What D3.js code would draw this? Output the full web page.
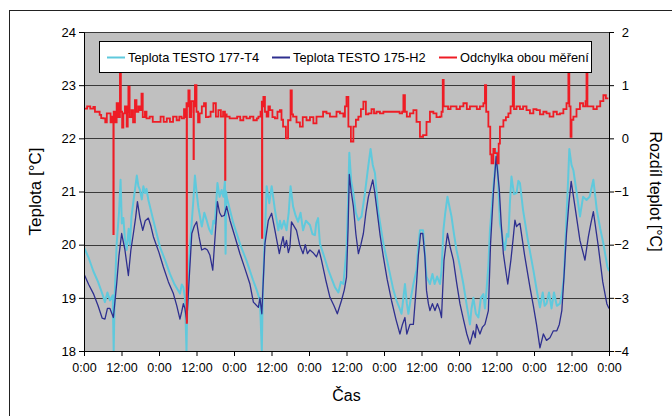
<!DOCTYPE html>
<html><head><meta charset="utf-8">
<script src="https://cdn.jsdelivr.net/npm/d3@7"></script>
<style>
html,body{margin:0;padding:0;background:#fff;}
svg{display:block;font-family:"Liberation Sans",Arial,sans-serif;}
</style></head>
<body><svg id="c" width="672" height="416"></svg>
<script>
// ---- data ----
const xTickHours = [0,12,24,36,48,60,72,84,96,108,120,132,144,156,168];
const xTickLabels = ["0:00","12:00","0:00","12:00","0:00","12:00","0:00","12:00","0:00","12:00","0:00","12:00","0:00","12:00","0:00"];
const leftTicks = [18,19,20,21,22,23,24];
const rightTicks = [-4,-3,-2,-1,0,1,2];
const seriesNames = ["Teplota TESTO 177-T4","Teplota TESTO 175-H2","Odchylka obou měření"];

const t4Hours = [0,1.5,3,4.5,6,6.7,7.5,8.3,9.2,9.5,9.8,10.45,11.2,11.7,12.1,12.6,13.1,13.65,14.3,14.7,15.2,16,16.9,17.4,17.9,18.5,19,19.5,20,20.6,22,24.3,26,27.5,29,30.7,31.3,31.8,32.3,32.8,33.1,33.9,35,35.5,36,36.6,37.2,37.7,38.5,39.25,40,40.85,41.4,41.9,42.7,43.4,44.05,44.6,45.1,45.3,45.5,45.65,46.5,47.8,50,52,54,55.3,56.3,56.9,57.2,57.9,58.45,59.3,60.05,61.1,62.2,62.7,63.2,64,64.8,65.5,66.1,66.9,67.7,68.5,69.3,70.1,71,72.3,73.1,73.9,74.3,74.9,75.5,77,78.2,79.3,80.3,81.4,82.2,83,84,84.5,84.9,85.5,86.2,87,87.8,88.8,89.9,90.8,91.7,92.4,93.1,94.1,95.8,97,97.9,99,100,101,101.6,102.2,102.7,103.3,103.8,104.6,105.4,106.4,107,107.5,108.5,109.1,109.6,110.7,111.5,112.2,113,113.9,114.4,115,115.6,116.3,117,117.6,118.4,119.2,120.3,121.4,122.5,123.5,124,124.6,125.4,126.2,127,127.8,128.3,128.8,129.4,129.9,130.5,131.2,132.05,132.6,133.1,133.9,134.7,135.3,135.8,136.3,136.8,137.6,138.4,139,139.5,140.5,142,143.8,145,145.9,146.8,147.4,148,148.8,149.6,150.4,151.3,152.3,153,153.6,154.4,154.9,155.3,156,156.6,157.6,158.7,159.7,160.8,161.8,163,164.1,165.2,166.2,167.5,168];
const t4Values = [19.95,19.75,19.5,19.3,19.05,18.92,19.1,18.95,19.05,18.0,19.0,20.02,20.6,21.22,20.4,20.5,20.1,19.9,20.3,20.0,20.53,20.9,21.3,21.1,21.03,20.85,21.1,20.97,21.05,20.84,20.5,19.96,19.7,19.45,19.25,19.08,19.25,19.2,19.0,18.0,19.1,19.96,20.84,21.3,21.0,20.7,20.5,20.34,20.6,20.46,20.3,20.2,20.45,20.4,21.16,20.9,21.03,20.9,21.2,19.83,21.0,20.9,20.7,20.4,20.0,19.7,19.35,19.14,18.95,18.0,19.1,20.2,21.1,20.78,21.1,20.65,20.27,20.45,20.3,20.45,20.27,20.6,21.1,20.72,20.55,20.43,20.6,20.27,20.45,20.37,20.2,20.18,20.4,20.5,20.02,19.75,19.52,19.35,19.2,19.1,19.3,19.26,19.9,20.8,21.73,21.2,20.97,20.6,20.46,20.53,20.97,21.4,21.8,21.5,21.35,20.65,20.02,19.7,19.45,19.15,18.95,18.8,18.7,19.0,19.26,18.9,18.7,19.0,19.26,19.52,20.0,20.27,20.27,19.8,19.4,19.26,19.45,19.26,19.4,19.26,19.5,20.27,20.6,20.9,20.7,20.53,20.2,19.9,19.6,19.26,18.85,18.5,18.8,19.0,18.7,18.63,19.0,19.07,18.8,19.14,19.6,20.27,20.7,21.22,21.75,21.1,20.4,20.15,19.9,20.2,20.15,20.8,21.28,20.95,20.97,21.2,21.16,20.65,20.1,19.52,19.1,18.82,19.1,18.85,18.89,19.1,18.8,19.1,18.85,18.89,19.1,19.4,20.53,21.2,21.8,21.5,21.4,21.0,20.53,20.9,20.84,20.9,21.22,20.65,20.3,20.02,19.58,19.5];

const h2Hours = [0,1.5,3,4.5,5.8,6.7,7.5,8.3,9.4,10.45,11.2,12.05,13.1,14.2,15,15.8,16.5,17.1,17.9,18.8,19.6,20.6,21.4,22.2,24,25.4,27,28.6,29.7,30.7,31.3,31.8,32.3,32.9,33.7,34.5,35.3,36.05,36.8,37.65,38.7,39.5,40.3,41.2,42,42.7,43.4,44.05,44.9,45.65,46.7,48.3,49.9,51.5,53.1,54.2,55.8,56.3,56.9,57.9,59,60.05,61.1,62.5,63.1,63.7,64.2,64.8,65.4,65.9,66.4,67.2,68,69,70.1,70.8,71.5,72.3,73.3,74.4,75.2,76,77.3,78.7,80,81.06,82.4,83.3,84,84.5,84.9,85.5,86.2,87,87.8,88.6,89.4,90.2,91,92.4,93,93.6,94.7,95.8,97,98.4,99.8,101.1,101.9,102.7,103.3,104.3,105.4,106.4,107,107.7,108.4,109.1,109.6,110.2,110.7,111.5,112.3,113.1,113.9,114.4,115.2,116.3,117.2,118.2,119.2,120.3,121.4,122.5,123.5,124.6,125.2,125.6,126.7,127.5,128.3,129.4,130.1,131,131.9,132.9,133.5,134.2,135,135.6,136.6,137.3,137.9,138.4,139,139.5,141,142.7,143.8,144.8,145.9,147,148,149.1,150.2,151.3,152.1,152.9,153.6,154.4,155.2,155.9,157.1,158.7,160.3,161.4,162.2,163,164.6,166,167.3,168];
const h2Values = [19.45,19.25,19.08,18.85,18.62,18.6,18.8,18.8,18.63,19.26,19.8,20.21,19.9,19.42,19.9,20.21,20.5,20.81,20.5,20.27,20.45,20.5,20.35,20.15,19.85,19.58,19.3,19.08,18.85,18.6,18.75,18.89,18.8,18.55,19.4,20.21,20.35,20.43,20.15,19.9,19.93,19.9,19.8,19.52,20.2,20.81,20.6,20.53,20.55,20.72,20.46,20.15,19.83,19.55,19.26,18.92,18.82,19.0,18.7,20.02,20.46,20.59,20.27,19.83,20.0,20.15,19.95,20.08,19.85,19.96,20.43,20.35,20.27,20.0,19.83,20.0,19.83,19.9,19.85,19.77,19.9,19.71,19.35,19.01,18.85,18.7,18.95,19.15,19.39,20.3,21.32,21.0,20.72,20.2,19.83,20.0,20.21,20.6,20.9,21.22,21.0,20.72,20.2,19.77,19.35,18.95,18.6,18.32,18.5,18.63,18.32,18.5,18.5,19.26,19.8,20.21,20.21,19.77,19.14,18.89,18.76,18.89,18.76,18.89,18.76,18.63,19.71,20.21,19.95,19.71,19.3,18.89,18.6,18.32,18.13,18.38,18.25,18.5,18.32,18.45,18.5,18.76,20.02,20.97,21.66,21.03,20.4,19.83,19.5,19.26,19.71,20.1,20.46,20.34,20.38,20.4,19.8,19.2,18.85,18.5,18.06,18.32,18.2,18.25,18.38,18.38,18.5,18.76,19.4,20.21,20.8,21.19,20.72,20.08,19.71,20.15,20.4,20.62,19.96,19.3,18.89,18.8];

const diffHours = [0,1,2,3,3.5,4.05,5,5.5,6.2,6.8,7.3,7.8,8.5,9,9.38,9.4,9.5,10,10.45,11,11.5,11.8,12.2,12.6,13.1,13.65,14,14.2,14.6,15.2,15.7,16.3,16.8,17.4,17.9,18.4,18.8,19.5,20,21,22,23.3,24.5,25.5,26.5,27.5,28.5,29.65,30.5,31.25,32,32.5,32.8,32.85,32.95,33.4,33.8,34.3,35,35.05,35.15,35.5,36,36.5,37,37.7,38.4,39,39.8,40.5,41.4,42.2,43,43.8,44.5,45.1,45.15,45.25,45.65,46.6,47.8,49,50,51,52,53.1,54.2,55.3,55.8,56.5,56.9,56.95,57.05,57.4,57.9,58.45,59,59.5,60.3,61.1,61.9,62.7,63.2,63.7,64.6,65.3,66.1,66.5,66.9,68,69.1,70,71.2,72.3,73.4,74.4,75.5,76.5,77.6,78.7,79.8,80.8,81.9,83,83.5,84,84.6,85.4,86.2,87,87.8,88.6,89.4,90.2,91,92,92.8,93.6,94.7,95.8,97,98,99,100,101,101.8,102.2,102.7,103.3,104.3,105.4,106.4,107.5,108.5,109.6,110.7,111.8,112.8,113.9,114.4,114.8,115.1,115.5,116.5,117.3,118.2,119.2,120.3,121.4,122.5,123.5,124.6,125.7,126.7,127.8,128.3,128.7,129.4,130,130.4,131,131.5,132.3,132.7,133.1,134.2,135,135.8,136.5,137.2,137.6,138.4,139.5,140.5,141.6,142.7,143.8,144.8,145.9,147,148,149,150.2,151.3,152.3,153.4,154.4,155,155.3,155.7,156,156.6,157.6,158.7,159.7,160.5,160.8,161.1,161.9,163,164.1,165.2,166.2,167,167.8];
const diffValues = [0.56,0.6,0.56,0.59,0.5,0.5,0.44,0.38,0.375,0.3,0.47,0.47,0.3,0.41,0.41,-1.8,0.5,0.3,0.66,0.4,1.22,0.5,0.2,0.47,0.6,0.22,0.5,0.97,0.4,0.53,0.3,0.72,0.5,0.6,0.53,0.84,0.4,0.5,0.375,0.41,0.31,0.31,0.41,0.31,0.375,0.31,0.41,0.34,0.41,0.375,0.55,0.4,0.66,-3.47,0.6,0.9,0.4,0.7,0.5,-0.39,0.6,1.0,0.5,0.3,0.47,0.6,0.66,0.4,0.41,0.5,0.66,0.41,0.53,0.41,0.5,0.41,-0.78,0.45,0.41,0.375,0.375,0.41,0.34,0.41,0.375,0.41,0.34,0.375,0.41,0.5,0.69,-1.87,0.6,0.78,0.5,0.41,0.6,0.53,0.4,0.375,0.5,0.53,0.35,0.22,0.0,0.34,0.9,0.45,0.41,0.3,0.22,0.4,0.34,0.4,0.28,0.41,0.41,0.5,0.47,0.41,0.41,0.5,0.47,0.41,0.6,0.78,0.22,-0.06,0.22,0.35,0.41,0.55,0.69,0.45,0.47,0.55,0.47,0.5,0.47,0.5,0.5,0.5,0.5,0.5,0.47,0.5,0.81,0.5,0.41,0.47,0.53,0.31,0.03,0.06,0.31,0.5,0.47,0.4,0.41,0.5,1.1,0.6,0.6,0.55,0.6,0.6,0.55,0.6,0.66,0.55,0.6,0.6,0.55,0.6,0.66,1.0,0.5,0.22,-0.3,-0.47,-0.2,-0.28,-0.47,-0.1,0.22,0.34,0.4,0.47,0.6,1.16,0.55,0.6,0.55,0.6,0.53,0.47,0.55,0.53,0.45,0.5,0.47,0.41,0.5,0.45,0.47,0.55,0.66,1.22,0.6,0.03,0.35,0.41,0.55,0.66,0.6,0.7,1.22,0.6,0.6,0.55,0.6,0.7,0.81,0.75,0.75];

// ---- drawing ----
const svg = d3.select("#c");
const colors = ["#5fc9dc","#2e2f8f","#ee1c25"];
const x = d3.scaleLinear().domain([0,168]).range([84,609]);
const yL = d3.scaleLinear().domain([18,24]).range([351,32]);
const yR = d3.scaleLinear().domain([-4,2]).range([351,32]);

// outer frame
svg.append("rect").attr("x",9.5).attr("y",10.5).attr("width",700).attr("height",450)
  .attr("fill","#fff").attr("stroke","#222").attr("stroke-width",1);

// plot area
svg.append("rect").attr("x",x(0)).attr("y",yL(24)).attr("width",x(168)-x(0)).attr("height",yL(18)-yL(24))
  .attr("fill","#c0c0c0");
svg.append("g").selectAll("line").data(leftTicks).join("line")
  .attr("x1",x(0)).attr("x2",x(168))
  .attr("y1",d=>Math.round(yL(d))+0.5).attr("y2",d=>Math.round(yL(d))+0.5)
  .attr("stroke","#3a3a3a").attr("stroke-width",1);

svg.append("defs").append("clipPath").attr("id","clip").append("rect")
  .attr("x",x(0)).attr("y",yL(24)).attr("width",x(168)-x(0)).attr("height",yL(18)-yL(24)+1);

const g = svg.append("g").attr("clip-path","url(#clip)");
const lineL = (hs,vs)=> d3.line().x((d,i)=>x(hs[i])).y((d,i)=>yL(vs[i]))(vs);
const lineR = (hs,vs)=> d3.line().curve(d3.curveStepAfter).x((d,i)=>x(hs[i])).y((d,i)=>yR(vs[i]))(vs);
g.append("path").attr("d",lineL(t4Hours,t4Values)).attr("fill","none").attr("stroke",colors[0]).attr("stroke-width",2).attr("stroke-linejoin","round");
g.append("path").attr("d",lineL(h2Hours,h2Values)).attr("fill","none").attr("stroke",colors[1]).attr("stroke-width",1.3).attr("stroke-linejoin","round");
g.append("path").attr("d",lineR(diffHours,diffValues)).attr("fill","none").attr("stroke",colors[2]).attr("stroke-width",1.8);

// axes
const fs = 13;
const axL = svg.append("g").attr("transform",`translate(${x(0)},0)`)
  .call(d3.axisLeft(yL).tickValues(leftTicks).tickSize(5).tickPadding(3).tickFormat(d3.format("d")));
const axR = svg.append("g").attr("transform",`translate(${x(168)},0)`)
  .call(d3.axisRight(yR).tickValues(rightTicks).tickSize(5).tickPadding(3).tickFormat(d3.format("d")));
const axB = svg.append("g").attr("transform",`translate(0,${yL(18)})`)
  .call(d3.axisBottom(x).tickValues(xTickHours).tickSize(5).tickPadding(7).tickFormat((d,i)=>xTickLabels[i]));
[axL,axR,axB].forEach(a=>{
  a.selectAll("path,line").attr("stroke","#000");
  a.selectAll("text").attr("font-size",fs).attr("fill","#000").attr("font-family","Liberation Sans, Arial, sans-serif");
});
axR.selectAll("text").attr("text-anchor","end").attr("x",20);
axB.selectAll("text").attr("font-size",12.5);

// axis titles
svg.append("text").attr("transform",`translate(41,${(yL(24)+yL(18))/2}) rotate(-90)`)
  .attr("text-anchor","middle").attr("font-size",17).text("Teplota [°C]");
svg.append("text").attr("transform",`translate(650,${(yL(24)+yL(18))/2}) rotate(90)`)
  .attr("text-anchor","middle").attr("font-size",16).text("Rozdíl teplot [°C]");
svg.append("text").attr("x",(x(0)+x(168))/2).attr("y",401)
  .attr("text-anchor","middle").attr("font-size",16).text("Čas");

// legend
const lg = svg.append("g");
lg.append("rect").attr("x",99.5).attr("y",41.5).attr("width",492).attr("height",31)
  .attr("fill","#fff").attr("stroke","#000").attr("stroke-width",1);
const legX = [107,272,439];
seriesNames.forEach((n,i)=>{
  lg.append("line").attr("x1",legX[i]).attr("x2",legX[i]+18).attr("y1",57.5).attr("y2",57.5)
    .attr("stroke",colors[i]).attr("stroke-width",2);
  lg.append("text").attr("x",legX[i]+21).attr("y",62).attr("font-size",12.8).text(n);
});
</script></body></html>
